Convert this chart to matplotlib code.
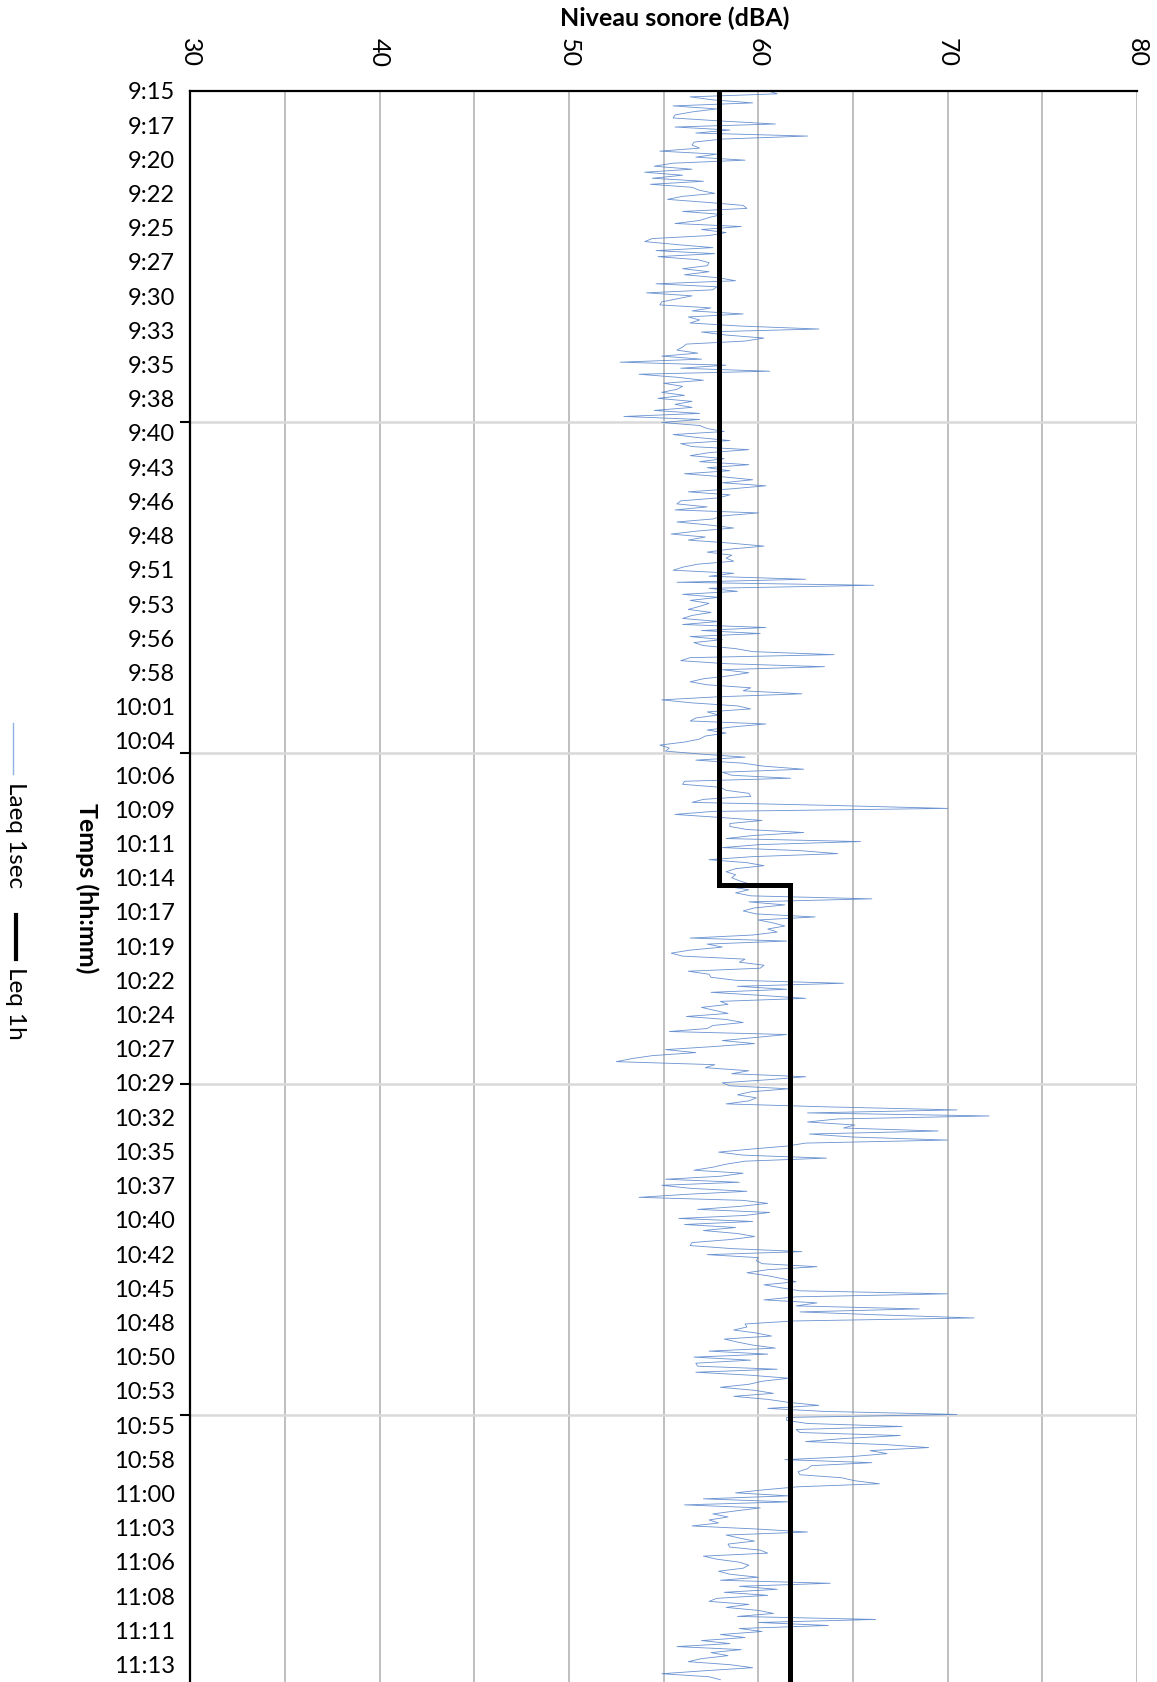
import matplotlib.pyplot as plt
from matplotlib.lines import Line2D
import numpy as np

plt.rcParams['font.family'] = ['Lato', 'DejaVu Sans']

# Laeq readings (dBA), every ~13.66 s starting 9:15
laeq_1s = [
    60.5, 61.0, 56.4, 57.6, 59.7, 55.5, 57.8, 56.5, 55.6, 55.5,
    58.0, 60.9, 55.6, 58.5, 56.7, 62.6, 58.1, 56.6, 56.5, 56.9,
    54.8, 57.8, 56.7, 59.3, 55.5, 54.5, 56.5, 54.0, 56.0, 54.4,
    57.1, 54.3, 56.5, 56.9, 57.7, 56.0, 55.2, 57.3, 59.2, 59.4,
    56.0, 58.1, 57.4, 56.9, 55.6, 59.1, 57.0, 58.3, 57.4, 54.4,
    54.0, 55.7, 57.6, 54.6, 57.7, 54.7, 56.8, 57.4, 57.3, 56.0,
    57.4, 56.1, 57.9, 58.8, 54.6, 57.8, 57.6, 54.1, 56.5, 55.7,
    54.9, 54.8, 57.5, 56.5, 59.2, 56.3, 56.9, 56.4, 59.0, 63.2,
    57.0, 58.3, 60.3, 59.3, 56.2, 56.0, 55.7, 56.8, 54.9, 57.0,
    52.7, 58.3, 55.9, 60.6, 53.7, 55.7, 57.1, 55.0, 56.0, 55.7,
    54.9, 56.1, 54.7, 56.5, 55.6, 56.5, 54.5, 56.9, 52.9, 56.9,
    54.9, 56.9, 57.3, 58.2, 55.5, 56.8, 58.5, 55.9, 56.5, 59.5,
    57.4, 56.4, 58.2, 56.9, 59.5, 57.3, 58.5, 56.1, 58.1, 59.7,
    58.1, 60.4, 58.6, 56.3, 58.5, 57.9, 55.9, 55.7, 57.3, 55.6,
    60.0, 58.1, 57.6, 55.7, 57.4, 58.7, 56.8, 55.4, 57.2, 56.3,
    58.5, 60.3, 58.5, 57.3, 58.6, 58.3, 58.7, 56.8, 56.0, 55.5,
    58.7, 57.4, 62.5, 55.7, 66.1, 57.4, 58.9, 56.0, 57.9, 56.4,
    57.4, 56.9, 56.3, 57.5, 56.5, 56.0, 57.9, 56.0, 60.4, 57.0,
    60.1, 56.4, 58.1, 56.6, 57.1, 58.8, 59.7, 64.0, 56.4, 55.9,
    58.3, 63.5, 58.1, 59.5, 58.5, 57.1, 56.4, 57.3, 59.6, 59.2,
    62.3, 57.8, 54.9, 56.5, 58.9, 59.6, 57.3, 57.9, 56.7, 56.4,
    60.4, 58.6, 57.3, 58.3, 57.2, 56.9, 56.1, 54.8, 55.3, 55.1,
    57.0, 59.3, 56.7, 59.2, 60.3, 62.4, 58.1, 58.6, 61.7, 56.1,
    56.0, 58.0, 58.3, 59.5, 59.6, 57.1, 56.5, 63.8, 70.0, 57.6,
    55.6, 58.0, 60.2, 58.5, 58.5, 59.4, 62.4, 59.7, 58.3, 65.4,
    60.1, 58.1, 62.2, 64.2, 59.7, 57.4, 59.4, 60.3, 58.8, 58.3,
    58.8, 58.6, 59.0, 59.5, 58.5, 59.5, 58.8, 59.6, 66.0, 59.5,
    61.4, 59.8, 59.2, 59.9, 63.0, 60.0, 60.8, 61.4, 60.5, 61.0,
    59.7, 56.4, 61.5, 57.3, 58.1, 56.4, 55.4, 56.0, 59.3, 59.0,
    60.3, 60.1, 56.3, 57.4, 57.5, 58.8, 64.5, 58.9, 61.5, 57.5,
    60.1, 62.5, 58.0, 58.4, 57.0, 57.7, 58.4, 56.2, 58.3, 59.2,
    57.6, 57.3, 55.3, 61.5, 59.8, 58.1, 59.8, 57.6, 55.1, 56.7,
    54.4, 53.3, 52.5, 57.7, 57.2, 59.5, 58.6, 62.5, 60.5, 58.1,
    58.5, 61.6, 59.6, 58.9, 59.9, 59.5, 58.3, 63.7, 70.5, 62.6,
    72.2, 64.2, 62.6, 65.1, 64.5, 69.5, 62.7, 65.0, 70.0, 62.5,
    61.5, 59.6, 57.9, 59.2, 63.6, 59.3, 58.3, 57.6, 56.6, 59.2,
    58.0, 55.1, 59.0, 54.9, 56.4, 59.4, 56.2, 53.7, 59.2, 60.5,
    59.0, 56.8, 60.6, 59.3, 55.8, 59.7, 56.1, 58.8, 57.1, 58.9,
    59.8, 58.5, 56.5, 56.4, 58.6, 62.3, 57.3, 60.0, 59.9, 60.2,
    63.1, 60.5, 59.4, 60.5, 61.3, 62.0, 60.3, 61.2, 62.2, 70.0,
    62.0, 60.3, 63.1, 62.0, 68.5, 62.2, 66.5, 71.4, 61.9, 59.3,
    59.4, 58.7, 59.9, 60.7, 58.2, 58.9, 59.7, 60.9, 57.4, 60.5,
    56.6, 59.6, 56.7, 56.8, 61.0, 56.7, 59.6, 61.6, 60.2, 59.5,
    58.0, 59.8, 60.8, 58.7, 60.5, 61.6, 63.2, 60.5, 63.5, 70.5,
    61.5, 61.5, 62.6, 67.6, 62.0, 62.2, 67.5, 64.5, 62.5, 66.7,
    69.0, 65.9, 66.8, 64.9, 61.4, 66.0, 62.8, 62.6, 62.1, 62.2,
    64.4, 65.1, 66.4, 62.1, 60.3, 58.8, 61.6, 57.1, 61.6, 56.1,
    60.1, 58.8, 57.6, 58.4, 57.4, 57.9, 56.5, 59.9, 62.6, 58.3,
    59.0, 59.8, 58.4, 58.5, 60.1, 60.5, 57.1, 57.8, 59.0, 59.5,
    59.2, 57.9, 58.5, 60.0, 58.0, 63.8, 59.0, 61.0, 58.2, 60.5,
    57.8, 57.4, 59.5, 58.3, 60.0, 60.8, 58.9, 66.2, 60.0, 63.7,
    59.0, 60.2, 58.0, 59.3, 57.0, 58.5, 55.7, 59.1, 57.5, 58.4,
    57.0, 56.3, 58.5, 59.7, 57.2, 54.9, 57.4, 58.0,
]
step_s = 13.66

# hourly Leq (dBA) and where each hour starts/ends (s after 9:15)
leq_1h = [57.9, 61.7]
leq_edges = [0, 3600, 7209]

time_labels = [
    '9:15', '9:17', '9:20', '9:22', '9:25', '9:27', '9:30', '9:33', '9:35', '9:38',
    '9:40', '9:43', '9:46', '9:48', '9:51', '9:53', '9:56', '9:58', '10:01', '10:04',
    '10:06', '10:09', '10:11', '10:14', '10:17', '10:19', '10:22', '10:24', '10:27', '10:29',
    '10:32', '10:35', '10:37', '10:40', '10:42', '10:45', '10:48', '10:50', '10:53', '10:55',
    '10:58', '11:00', '11:03', '11:06', '11:08', '11:11', '11:13',
]
label_step_s = 155
grid_step_s = 1500

t = np.arange(len(laeq_1s)) * step_s

fig = plt.figure(figsize=(11.57, 16.82), dpi=100)
ax = fig.add_axes([0.1646, 0.0, 0.818, 0.946])

ax.plot(laeq_1s, t, color='#4f7fc9', lw=0.6, alpha=0.85)
ax.plot(np.repeat(leq_1h, 2), np.repeat(leq_edges, 2)[1:-1], color='black', lw=3.6,
        solid_joinstyle='miter')

ax.set_xlim(30, 80)
ax.set_ylim(leq_edges[-1], 0)

ax.set_xticks(np.arange(30, 81, 10))
ax.xaxis.tick_top()
ax.tick_params(axis='x', which='major', length=0, pad=17, labelsize=18,
               labelrotation=-90)
ax.set_xticks(np.arange(35, 80, 10), minor=True)
ax.tick_params(axis='x', which='minor', length=0)

ax.set_yticks(np.arange(grid_step_s, leq_edges[-1], grid_step_s))
ax.set_yticklabels([])
ax.set_yticks(np.arange(len(time_labels)) * label_step_s, minor=True)
ax.set_yticklabels(time_labels, minor=True)
ax.yaxis.remove_overlapping_locs = False
ax.tick_params(axis='y', which='major', length=7, width=1.5, direction='out')
ax.tick_params(axis='y', which='minor', length=0, pad=11, labelsize=17)

ax.grid(axis='x', which='both', color='#bfbfbf', lw=1.4)
ax.grid(axis='y', which='major', color='#d9d9d9', lw=1.8)
ax.set_axisbelow(True)

for side in ['right', 'bottom']:
    ax.spines[side].set_visible(False)
for side in ['top', 'left']:
    ax.spines[side].set_linewidth(1.6)

fig.text(0.583, 0.989, 'Niveau sonore (dBA)', ha='center', va='center',
         fontsize=18, fontweight='bold')
fig.text(0.075, 0.472, 'Temps (hh:mm)', ha='center', va='center', rotation=-90,
         fontsize=18, fontweight='bold')

# legend, turned on its side like the rest of the chart
fig.add_artist(Line2D([0.0112, 0.0112], [0.570, 0.540], color='#8fb0e0', lw=1.0))
fig.text(0.0138, 0.5036, 'Laeq 1sec', ha='center', va='center', rotation=-90,
         fontsize=17.5)
fig.add_artist(Line2D([0.0138, 0.0138], [0.456, 0.430], color='black', lw=3.0))
fig.text(0.0138, 0.4034, 'Leq 1h', ha='center', va='center', rotation=-90,
         fontsize=17.5)

fig.savefig('out.png', dpi=100)
